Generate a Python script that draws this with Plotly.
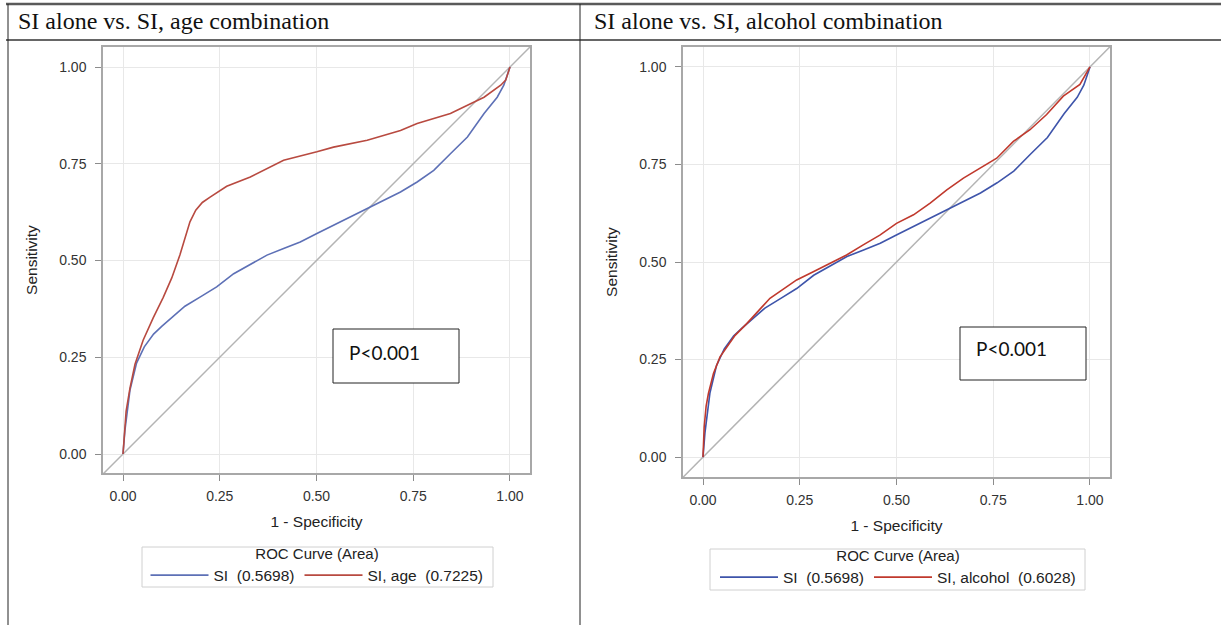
import plotly.graph_objects as go

W, H = 1221, 625

# ---------------- data ----------------
si_fpr = [0.0, 0.005, 0.018, 0.035, 0.055, 0.079, 0.100, 0.130, 0.160, 0.200, 0.242,
          0.286, 0.329, 0.372, 0.415, 0.458, 0.501, 0.544, 0.588, 0.631, 0.674, 0.717,
          0.760, 0.803, 0.846, 0.890, 0.933, 0.967, 0.984, 1.0]
si_tpr = [0.0, 0.062, 0.165, 0.235, 0.277, 0.310, 0.330, 0.355, 0.382, 0.406, 0.432,
          0.466, 0.490, 0.514, 0.531, 0.548, 0.570, 0.591, 0.613, 0.634, 0.656, 0.677,
          0.703, 0.733, 0.776, 0.819, 0.880, 0.922, 0.953, 1.0]

age_fpr = [0.0, 0.003, 0.008, 0.018, 0.031, 0.052, 0.078, 0.104, 0.126, 0.147, 0.160,
           0.173, 0.188, 0.205, 0.225, 0.268, 0.329, 0.415, 0.501, 0.544, 0.631, 0.717,
           0.760, 0.846, 0.890, 0.933, 0.976, 0.989, 1.0]
age_tpr = [0.0, 0.045, 0.110, 0.170, 0.232, 0.294, 0.352, 0.405, 0.455, 0.514, 0.555,
           0.600, 0.630, 0.650, 0.664, 0.692, 0.716, 0.759, 0.781, 0.793, 0.811, 0.836,
           0.854, 0.880, 0.901, 0.922, 0.953, 0.966, 1.0]

alc_fpr = [0.0, 0.003, 0.008, 0.014, 0.027, 0.044, 0.083, 0.113, 0.173, 0.242, 0.285,
           0.328, 0.371, 0.414, 0.457, 0.500, 0.544, 0.587, 0.630, 0.673, 0.716, 0.759,
           0.802, 0.845, 0.888, 0.931, 0.974, 1.0]
alc_tpr = [0.0, 0.077, 0.130, 0.163, 0.214, 0.257, 0.312, 0.342, 0.407, 0.454, 0.475,
           0.497, 0.518, 0.544, 0.569, 0.599, 0.621, 0.651, 0.685, 0.715, 0.741, 0.766,
           0.809, 0.839, 0.878, 0.925, 0.955, 1.0]

headers = ["SI alone vs. SI, age combination", "SI alone vs. SI, alcohol combination"]
left_names = ["SI\u00a0 (0.5698)", "SI, age\u00a0 (0.7225)"]
right_names = ["SI\u00a0 (0.5698)", "SI, alcohol\u00a0 (0.6028)"]
legend_title = "ROC Curve (Area)"
pval = "P<0.001"
ticks = [0.0, 0.25, 0.5, 0.75, 1.0]
ticktext = ["0.00", "0.25", "0.50", "0.75", "1.00"]
diag = [-0.0517, 1.0517]


def px_x(p):
    return p / W


def px_y(p):
    return 1 - p / H


SANS = "Liberation Sans, Arial"

fig = go.Figure()

# left panel
fig.add_trace(go.Scatter(x=diag, y=diag, mode="lines", line=dict(color="#b4b4b4", width=1.5),
                         showlegend=False, hoverinfo="skip", xaxis="x", yaxis="y"))
fig.add_trace(go.Scatter(x=si_fpr, y=si_tpr, mode="lines", name=left_names[0],
                         line=dict(color="#5d70b6", width=1.6), xaxis="x", yaxis="y",
                         legend="legend"))
fig.add_trace(go.Scatter(x=age_fpr, y=age_tpr, mode="lines", name=left_names[1],
                         line=dict(color="#b84a40", width=1.6), xaxis="x", yaxis="y",
                         legend="legend"))

# right panel
fig.add_trace(go.Scatter(x=diag, y=diag, mode="lines", line=dict(color="#b4b4b4", width=1.5),
                         showlegend=False, hoverinfo="skip", xaxis="x2", yaxis="y2"))
fig.add_trace(go.Scatter(x=si_fpr, y=si_tpr, mode="lines", name=right_names[0],
                         line=dict(color="#3e54aa", width=1.6), xaxis="x2", yaxis="y2",
                         legend="legend2"))
fig.add_trace(go.Scatter(x=alc_fpr, y=alc_tpr, mode="lines", name=right_names[1],
                         line=dict(color="#c0392d", width=1.6), xaxis="x2", yaxis="y2",
                         legend="legend2"))

axis_common = dict(
    tickmode="array", tickvals=ticks, ticktext=ticktext,
    ticks="outside", ticklen=6, tickcolor="#8c8c8c", tickwidth=1,
    showline=True, linecolor="#a8a8a8", linewidth=1.5, mirror=True,
    showgrid=True, gridcolor="#e8e8e8", gridwidth=1, zeroline=False,
    tickfont=dict(family=SANS, size=14, color="#333333"),
    automargin=False, fixedrange=True,
)
xaxis_extra = dict(ticklabelstandoff=3)
yaxis_extra = dict(ticklabelstandoff=6)

title_font = dict(family=SANS, size=15.5, color="#222222")

legend_common = dict(
    orientation="h", xanchor="center", yanchor="top",
    borderwidth=0, bgcolor="rgba(0,0,0,0)",
    font=dict(family=SANS, size=15.5, color="#222222"),
    title=dict(text=legend_title, side="top center",
               font=dict(family=SANS, size=15, color="#222222")),
    itemwidth=58,
)

fig.update_layout(
    width=W, height=H,
    margin=dict(l=0, r=0, t=0, b=0),
    paper_bgcolor="white", plot_bgcolor="white",
    xaxis=dict(domain=[px_x(103), px_x(530)], range=[-0.0517, 1.0517], anchor="y",
               title=dict(text="1 - Specificity", font=title_font, standoff=14),
               **axis_common, **xaxis_extra),
    yaxis=dict(domain=[px_y(473), px_y(47)], range=[-0.049, 1.0517], anchor="x",
               title=dict(text="Sensitivity", font=title_font, standoff=18),
               **axis_common, **yaxis_extra),
    xaxis2=dict(domain=[px_x(683), px_x(1110)], range=[-0.0517, 1.0517], anchor="y2",
                title=dict(text="1 - Specificity", font=title_font, standoff=14),
                **axis_common, **xaxis_extra),
    yaxis2=dict(domain=[px_y(477), px_y(47)], range=[-0.051, 1.051], anchor="x2",
                title=dict(text="Sensitivity", font=title_font, standoff=18),
                **axis_common, **yaxis_extra),
    legend=dict(x=px_x(317), y=px_y(539), **legend_common),
    legend2=dict(x=px_x(898), y=px_y(541), **legend_common),
)

# table borders
shapes = [
    dict(type="line", xref="paper", yref="paper", x0=px_x(6), x1=1, y0=px_y(4), y1=px_y(4),
         line=dict(color="#5a5a5a", width=2.5)),
    dict(type="line", xref="paper", yref="paper", x0=px_x(6), x1=1, y0=px_y(40), y1=px_y(40),
         line=dict(color="#333333", width=1.5)),
    dict(type="line", xref="paper", yref="paper", x0=px_x(8), x1=px_x(8), y0=0, y1=px_y(4),
         line=dict(color="#222222", width=1)),
    dict(type="line", xref="paper", yref="paper", x0=px_x(580), x1=px_x(580), y0=0, y1=px_y(4),
         line=dict(color="#222222", width=1)),
    # legend frames
    dict(type="rect", xref="paper", yref="paper", x0=px_x(142), x1=px_x(493),
         y0=px_y(587), y1=px_y(547), line=dict(color="#d0d0d0", width=1), fillcolor="white",
         layer="below"),
    dict(type="rect", xref="paper", yref="paper", x0=px_x(710), x1=px_x(1085),
         y0=px_y(590), y1=px_y(549), line=dict(color="#d0d0d0", width=1), fillcolor="white",
         layer="below"),
    # P-value boxes
    dict(type="rect", xref="paper", yref="paper", x0=px_x(333), x1=px_x(459),
         y0=px_y(383), y1=px_y(329), line=dict(color="#222222", width=1), fillcolor="white"),
    dict(type="rect", xref="paper", yref="paper", x0=px_x(960), x1=px_x(1086),
         y0=px_y(380), y1=px_y(327), line=dict(color="#222222", width=1), fillcolor="white"),
]
fig.update_layout(shapes=shapes)

SERIF = "Liberation Serif, Times New Roman"
annotations = [
    dict(text=headers[0], xref="paper", yref="paper", x=px_x(16), y=px_y(21),
         xanchor="left", yanchor="middle", showarrow=False,
         font=dict(family=SERIF, size=24, color="#111111")),
    dict(text=headers[1], xref="paper", yref="paper", x=px_x(592), y=px_y(21),
         xanchor="left", yanchor="middle", showarrow=False,
         font=dict(family=SERIF, size=24, color="#111111")),
    dict(text=pval, xref="paper", yref="paper", x=px_x(347), y=px_y(352),
         xanchor="left", yanchor="middle", showarrow=False,
         font=dict(family="Lato, Open Sans", size=19, color="#111111")),
    dict(text=pval, xref="paper", yref="paper", x=px_x(974), y=px_y(348),
         xanchor="left", yanchor="middle", showarrow=False,
         font=dict(family="Lato, Open Sans", size=19, color="#111111")),
]
fig.update_layout(annotations=annotations)

fig.write_html("out.html", config={"displayModeBar": False},
               post_script="document.body.style.margin='0px';document.body.style.overflow='hidden';")
